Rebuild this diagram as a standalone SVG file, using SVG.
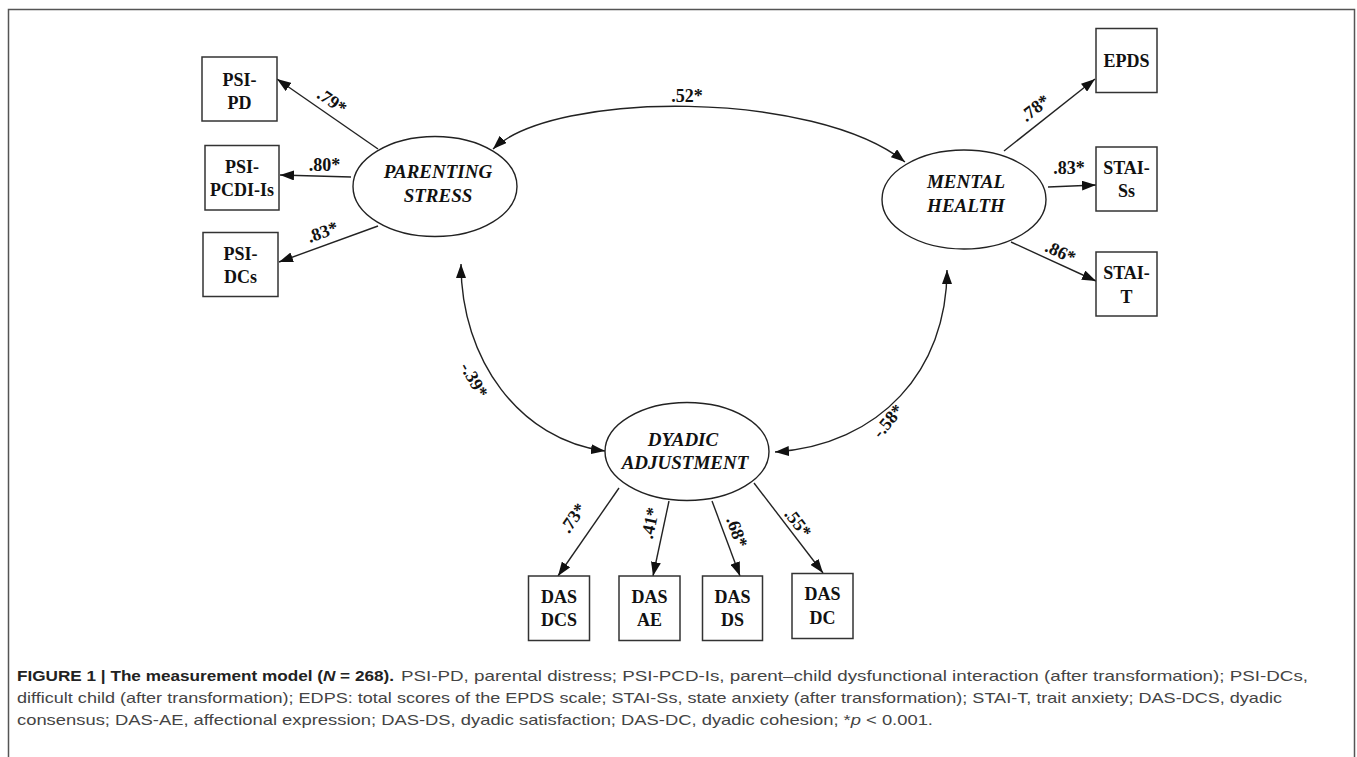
<svg xmlns="http://www.w3.org/2000/svg" width="1357" height="757" viewBox="0 0 1357 757">
<style>
.box{fill:#fff;stroke:#333;stroke-width:1.5}
.ell{fill:#fff;stroke:#222;stroke-width:1.4}
.bt{font-family:"Liberation Serif","Times New Roman",serif;font-weight:bold;font-size:18px;text-anchor:middle;fill:#111}
.et{font-family:"Liberation Serif","Times New Roman",serif;font-weight:bold;font-style:italic;font-size:19px;text-anchor:middle;fill:#111}
.lb{font-family:"Liberation Serif","Times New Roman",serif;font-weight:bold;font-size:18px;text-anchor:middle;fill:#111}
.ln{fill:none;stroke:#222;stroke-width:1.4;marker-end:url(#ah)}
.cv{fill:none;stroke:#222;stroke-width:1.4;marker-start:url(#ah);marker-end:url(#ah)}
.cap{font-family:"Liberation Sans",Arial,sans-serif;font-size:15px;fill:#444}
.capb{font-family:"Liberation Sans",Arial,sans-serif;font-size:15px;font-weight:bold;fill:#222}
</style>
<defs>
<marker id="ah" viewBox="0 0 14 10" markerWidth="14" markerHeight="10" refX="14" refY="5" orient="auto-start-reverse" markerUnits="userSpaceOnUse">
<path d="M0,0 L14,5 L0,10 z" fill="#111"/>
</marker>
</defs>
<rect x="8.5" y="9.5" width="1346" height="760" fill="#fff" stroke="#555" stroke-width="1.5"/>

<g id="connectors">
<line class="ln" x1="378" y1="149" x2="277" y2="79"/>
<line class="ln" x1="351" y1="177" x2="280" y2="175"/>
<line class="ln" x1="378" y1="226" x2="279" y2="262"/>
<line class="ln" x1="1004" y1="151" x2="1095" y2="79"/>
<line class="ln" x1="1048" y1="187" x2="1096" y2="185"/>
<line class="ln" x1="1011" y1="242" x2="1096" y2="281"/>
<line class="ln" x1="619" y1="488" x2="558" y2="576"/>
<line class="ln" x1="669" y1="501" x2="653" y2="576"/>
<line class="ln" x1="712" y1="501" x2="740" y2="576"/>
<line class="ln" x1="754" y1="483" x2="823" y2="573"/>
<path class="cv" d="M493,149 C555,90 815,90 905,162"/>
<path class="cv" d="M461,264 C461,360 520,440 605,451"/>
<path class="cv" d="M947,270 C947,370 880,445 775,452"/>
<text class="lb" x="687" y="102">.52*</text>
<text class="lb" transform="translate(332,101) rotate(35)" y="6">.79*</text>
<text class="lb" x="324.5" y="171">.80*</text>
<text class="lb" transform="translate(322.5,232) rotate(-20)" y="6">.83*</text>
<text class="lb" transform="translate(1035,108) rotate(-38)" y="6">.78*</text>
<text class="lb" x="1069" y="174">.83*</text>
<text class="lb" transform="translate(1060.5,252) rotate(25)" y="6">.86*</text>
<text class="lb" transform="translate(474,380) rotate(60)" y="6">-.39*</text>
<text class="lb" transform="translate(888,421) rotate(-50)" y="6">-.58*</text>
<text class="lb" transform="translate(573,518) rotate(-55)" y="6">.73*</text>
<text class="lb" transform="translate(650,523) rotate(-78)" y="6">.41*</text>
<text class="lb" transform="translate(737,532) rotate(70)" y="6">.68*</text>
<text class="lb" transform="translate(798,523) rotate(52)" y="6">.55*</text>
</g>

<g id="parenting-stress">
<ellipse class="ell" cx="435" cy="186.5" rx="82" ry="50"/>
<text class="et" x="438" y="178">PARENTING</text>
<text class="et" x="438" y="201.5">STRESS</text>
</g>
<g id="mental-health">
<ellipse class="ell" cx="964" cy="199.5" rx="82" ry="49.5"/>
<text class="et" x="966" y="188">MENTAL</text>
<text class="et" x="966" y="211.5">HEALTH</text>
</g>
<g id="dyadic-adjustment">
<ellipse class="ell" cx="687" cy="451.5" rx="82" ry="49"/>
<text class="et" x="683" y="445.5">DYADIC</text>
<text class="et" x="685" y="469">ADJUSTMENT</text>
</g>

<g id="psi-pd">
<rect class="box" x="202" y="57" width="75" height="64"/>
<text class="bt" x="239.5" y="86">PSI-</text>
<text class="bt" x="239.5" y="109">PD</text>
</g>
<g id="psi-pcdi-is">
<rect class="box" x="205" y="145.5" width="74" height="64.5"/>
<text class="bt" x="242" y="172.5">PSI-</text>
<text class="bt" x="242" y="196">PCDI-Is</text>
</g>
<g id="psi-dcs">
<rect class="box" x="203" y="232.5" width="75" height="64"/>
<text class="bt" x="240.5" y="259.5">PSI-</text>
<text class="bt" x="240.5" y="283">DCs</text>
</g>
<g id="epds">
<rect class="box" x="1096" y="28.5" width="61" height="64"/>
<text class="bt" x="1126.5" y="67">EPDS</text>
</g>
<g id="stai-ss">
<rect class="box" x="1096" y="147" width="61" height="64"/>
<text class="bt" x="1126.5" y="173.5">STAI-</text>
<text class="bt" x="1126.5" y="197">Ss</text>
</g>
<g id="stai-t">
<rect class="box" x="1096" y="252" width="61" height="64"/>
<text class="bt" x="1126.5" y="278.5">STAI-</text>
<text class="bt" x="1126.5" y="302.5">T</text>
</g>
<g id="das-dcs">
<rect class="box" x="528.5" y="576" width="61" height="64.5"/>
<text class="bt" x="559" y="603">DAS</text>
<text class="bt" x="559" y="626">DCS</text>
</g>
<g id="das-ae">
<rect class="box" x="619" y="576" width="61" height="64.5"/>
<text class="bt" x="649.5" y="603">DAS</text>
<text class="bt" x="649.5" y="626">AE</text>
</g>
<g id="das-ds">
<rect class="box" x="702.5" y="576" width="60" height="64.5"/>
<text class="bt" x="732.5" y="603">DAS</text>
<text class="bt" x="732.5" y="626">DS</text>
</g>
<g id="das-dc">
<rect class="box" x="792" y="573.5" width="61" height="65"/>
<text class="bt" x="822.5" y="600">DAS</text>
<text class="bt" x="822.5" y="624">DC</text>
</g>

<g id="caption">
<text class="capb" x="17" y="681" textLength="377" lengthAdjust="spacingAndGlyphs">FIGURE 1 | The measurement model (<tspan font-style="italic">N</tspan> = 268).</text>
<text class="cap" x="401" y="681" textLength="907" lengthAdjust="spacingAndGlyphs">PSI-PD, parental distress; PSI-PCD-Is, parent–child dysfunctional interaction (after transformation); PSI-DCs,</text>
<text class="cap" x="17" y="703" textLength="1265" lengthAdjust="spacingAndGlyphs">difficult child (after transformation); EDPS: total scores of the EPDS scale; STAI-Ss, state anxiety (after transformation); STAI-T, trait anxiety; DAS-DCS, dyadic</text>
<text class="cap" x="17" y="725" textLength="916" lengthAdjust="spacingAndGlyphs">consensus; DAS-AE, affectional expression; DAS-DS, dyadic satisfaction; DAS-DC, dyadic cohesion; *<tspan font-style="italic">p</tspan> &lt; 0.001.</text>
</g>
</svg>
